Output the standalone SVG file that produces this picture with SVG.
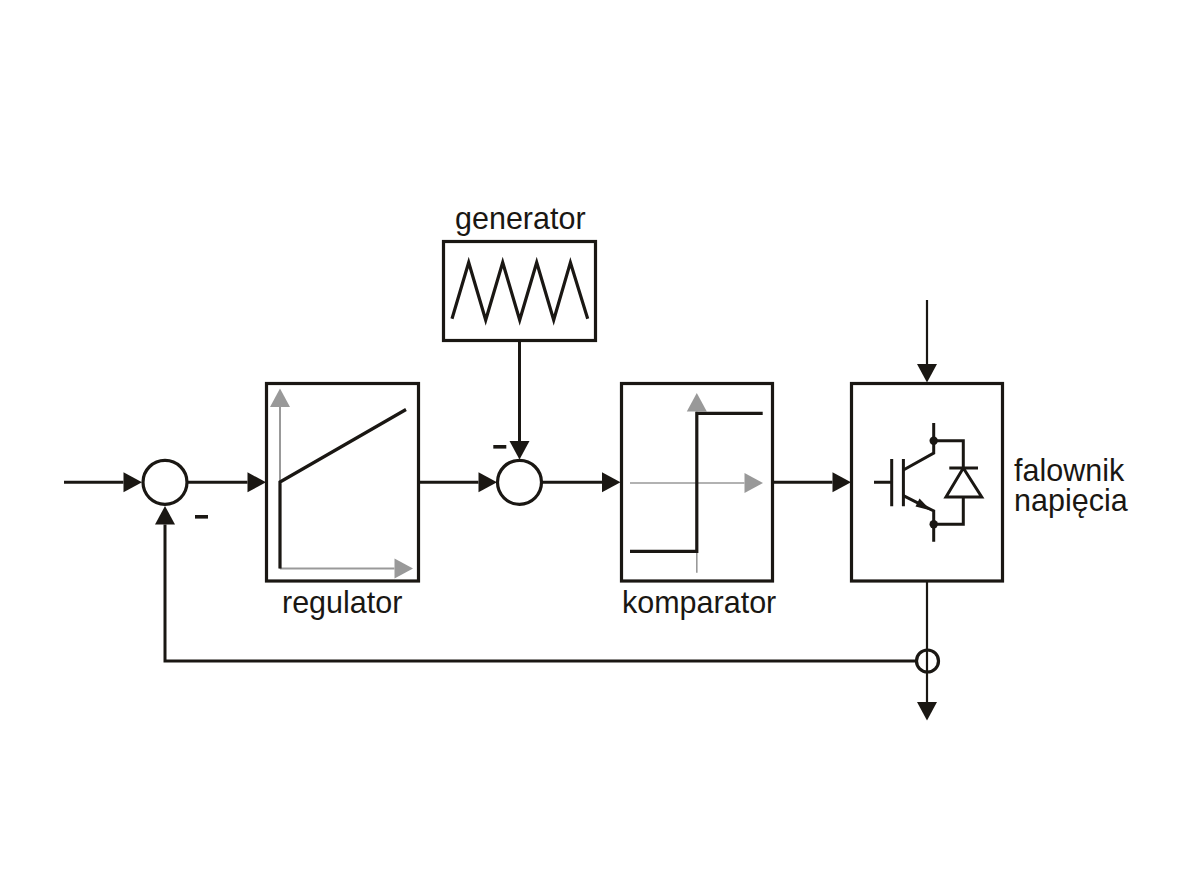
<svg xmlns="http://www.w3.org/2000/svg" width="1191" height="893" viewBox="0 0 1191 893">
  <style>
    .box { fill: none; stroke: #1a1713; stroke-width: 3.2; }
    .sum { fill: #fff; stroke: #1a1713; stroke-width: 3.2; }
    .wire { fill: none; stroke: #1a1713; stroke-width: 3; }
    .thin { fill: none; stroke: #1a1713; stroke-width: 2.2; }
    .arrowed { marker-end: url(#head); }
    .curve { fill: none; stroke: #1a1713; stroke-width: 3.2; stroke-linejoin: miter; }
    .axis { fill: none; stroke: #999; stroke-width: 2; marker-end: url(#axis-head); }
    .sign { fill: #1a1713; }
    .dot { fill: #1a1713; }
    text { font-family: "Liberation Sans", Arial, sans-serif; font-size: 30.5px; fill: #1a1713; }
  </style>
  <defs>
    <marker id="head" markerUnits="userSpaceOnUse" markerWidth="20" markerHeight="22" refX="0" refY="10.5" orient="auto" overflow="visible">
      <path d="M0,0.5 L18.5,10.5 L0,20.5 Z" fill="#1a1713"/>
    </marker>
    <marker id="axis-head" markerUnits="userSpaceOnUse" markerWidth="20" markerHeight="22" refX="0" refY="10.5" orient="auto" overflow="visible">
      <path d="M0,0.5 L18.5,10.5 L0,20.5 Z" fill="#999"/>
    </marker>
  </defs>

  <!-- signal paths between the blocks -->
  <g id="connectors">
    <path class="wire arrowed" d="M64,482.3 H123.5"/>
    <path class="wire arrowed" d="M186,482.3 H247.5"/>
    <path class="wire arrowed" d="M419,482.3 H478.5"/>
    <path class="wire arrowed" d="M519.5,341 V441"/>
    <path class="wire arrowed" d="M541,482.3 H602"/>
    <path class="wire arrowed" d="M773,482.3 H832.5"/>
    <path class="thin arrowed" d="M927,300 V364"/>
    <path class="thin arrowed" d="M927,581 V702"/>
    <path class="wire arrowed" d="M916,661 H165 V524.5"/>
  </g>

  <g id="summing-input">
    <circle class="sum" cx="165" cy="482.3" r="22"/>
    <rect class="sign" x="195" y="515" width="13" height="3.6"/>
  </g>

  <g id="regulator">
    <rect class="box" x="266.5" y="383.5" width="152" height="197.5"/>
    <path class="axis" d="M280,568.5 V407"/>
    <path class="axis" d="M280,568.5 H394.5"/>
    <path class="curve" d="M280,568.5 V482 L406,409.5"/>
    <text x="282" y="612.5">regulator</text>
  </g>

  <g id="generator">
    <rect class="box" x="443.5" y="241.5" width="152" height="99"/>
    <path class="curve" d="M452,318.7 L468.7,262.5 L485.7,320 L502.7,262.5 L519.7,320 L536.7,262.5 L553.7,320 L570.4,262.5 L587.7,318.7"/>
    <text x="455" y="228.5">generator</text>
  </g>

  <g id="summing-generator">
    <circle class="sum" cx="519.5" cy="482.3" r="22"/>
    <rect class="sign" x="493.3" y="445" width="13" height="3.6"/>
  </g>

  <g id="komparator">
    <rect class="box" x="621.5" y="383.5" width="151" height="197.5"/>
    <path class="axis" style="stroke-width:1.6" d="M630,483 H744.5"/>
    <path class="axis" style="stroke-width:1.6" d="M696.8,572.7 V411.5"/>
    <path class="curve" d="M630,551.3 H696.8 V413.3 H762.7"/>
    <text x="622" y="612.5">komparator</text>
  </g>

  <g id="falownik">
    <rect class="box" x="851.5" y="383.5" width="151" height="197.5"/>
    <path class="wire" d="M874,482.3 H891.7 M891.7,459 V506.3 M903.4,459 V506.3"/>
    <path class="wire" d="M903.4,470 L933.7,453 V423 M903.4,495.7 L933.7,511 V541.7"/>
    <path class="dot" d="M919.5,498.5 L931,510.5 L915.5,506.5 Z"/>
    <circle class="dot" cx="933.7" cy="440.7" r="4.2"/>
    <circle class="dot" cx="933.7" cy="524.2" r="4.2"/>
    <path class="wire" d="M933.7,440.8 H963.3 V468 M963.3,497 V524.2 H933.7"/>
    <path class="wire" d="M949.3,468 H978 M963.3,468 L981.7,497 H946 Z"/>
    <text x="1014" y="480.5">falownik</text>
    <text x="1014" y="510.5">napięcia</text>
  </g>

  <g id="measurement">
    <circle class="sum" style="fill:none" cx="927.5" cy="661" r="11"/>
  </g>
</svg>
